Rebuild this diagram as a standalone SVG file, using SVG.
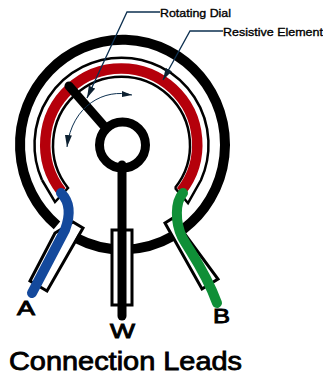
<svg xmlns="http://www.w3.org/2000/svg" width="323" height="376" viewBox="0 0 323 376">
<style>
.k{fill:none;stroke:#000}
.w{fill:#fff;stroke:#000;stroke-width:3}
.t{font-family:"Liberation Sans",Arial,sans-serif;fill:#000;stroke:#000}
.c{fill:none;stroke:#0d3050;stroke-width:1.3}
</style>
<defs><marker id="a" markerWidth="13" markerHeight="7" refX="12" refY="3.500" orient="auto" markerUnits="userSpaceOnUse"><path d="M0 0L12 3.500L0 7z" fill="#0d2030"/></marker></defs>
<rect width="323" height="376" fill="#fff"/>
<g id="lead-boxes">
<path class="w" d="M30 281L47 291L83 228L73 222L55 233Z"/>
<path class="w" d="M165 223L173 218L218 279L202 289Z"/>
</g>
<g id="body">
<path class="k" stroke-width="10" d="M57 225.400A102.500 105 0 1 1 183 229.400"/>
<path class="k" stroke-width="10" d="M76 238A102.500 105 0 0 0 173 236"/>
</g>
<g id="element">
<path fill="none" stroke="#b5000b" stroke-width="10.500" d="M61.500 191.500A76 76 0 1 1 181 191.500"/>
<path class="k" stroke-width="2.500" d="M42 180A87 87 0 1 1 201 180L188 203L175 188"/>
<path class="k" stroke-width="2.500" d="M42 180L55 202L68 188A68.500 68.500 0 1 1 175 188"/>
</g>
<g id="lead-A">
<path fill="none" stroke="#14499c" stroke-width="10" stroke-linecap="round" d="M61 193C70 202 71 214 65 230L32 293"/>
</g>
<g id="lead-W">
<path class="w" d="M112 230H132V305H112Z"/>
<path class="k" stroke-width="9" stroke-linecap="round" d="M122 165V316"/>
</g>
<g id="lead-B">
<path fill="none" stroke="#0f8f37" stroke-width="10" stroke-linecap="round" d="M183 193C175 202 175 222 182 237C190 252 205 270 217 303"/>
</g>
<g id="dial">
<circle class="k" cx="122.500" cy="145" r="23" stroke-width="9"/>
<path class="k" stroke-width="9" stroke-linecap="round" d="M69 86L104 126"/>
</g>
<g id="connectors">
<path class="c" d="M160 12H127L87 98" marker-end="url(#a)"/>
<path class="c" d="M223 31H190L163 80" marker-end="url(#a)"/>
<path class="c" d="M132 95C105 88 72 105 67 147" marker-end="url(#a)" style="stroke-width:1"/>
<path d="M132 95L122 91V97Z" fill="#0d2030"/>
</g>
<g id="labels">
<text class="t" x="160" y="17" font-size="11.500" stroke-width=".35" textLength="71" lengthAdjust="spacingAndGlyphs">Rotating Dial</text>
<text class="t" x="223" y="36" font-size="11.500" stroke-width=".35" textLength="100" lengthAdjust="spacingAndGlyphs">Resistive Element</text>
<text class="t" x="17" y="315" font-size="20" stroke-width=".9" textLength="18" lengthAdjust="spacingAndGlyphs">A</text>
<text class="t" x="110" y="338" font-size="20" stroke-width=".9" textLength="25" lengthAdjust="spacingAndGlyphs">W</text>
<text class="t" x="213" y="323" font-size="20" stroke-width=".9" textLength="17" lengthAdjust="spacingAndGlyphs">B</text>
<text class="t" x="9" y="370" font-size="25" stroke-width=".8" textLength="233" lengthAdjust="spacingAndGlyphs">Connection Leads</text>
</g>
</svg>
